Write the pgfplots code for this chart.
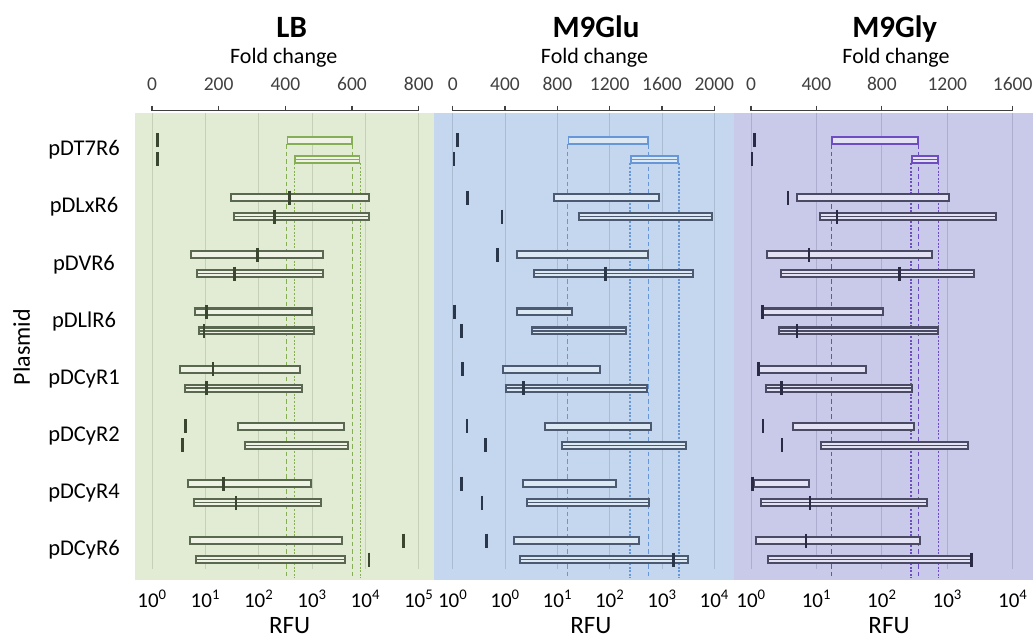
\documentclass[border=0pt]{standalone}
\usepackage{fontspec}
\setmainfont{Carlito}
\usepackage{pgfplots}
\pgfplotsset{compat=1.18}

\definecolor{lbbg}{HTML}{E2EBD3}
\definecolor{lbgrid}{HTML}{C6D0B8}
\definecolor{lbbar}{HTML}{5A6850}
\definecolor{lbfill}{HTML}{EEF3E6}
\definecolor{lbmark}{HTML}{3A4630}
\definecolor{lbt7}{HTML}{86AE55}

\definecolor{glubg}{HTML}{C5D7EE}
\definecolor{glugrid}{HTML}{AABCD2}
\definecolor{glubar}{HTML}{4B5A70}
\definecolor{glufill}{HTML}{DDE8F5}
\definecolor{glumark}{HTML}{2A364A}
\definecolor{glut7}{HTML}{6797D6}

\definecolor{glybg}{HTML}{C9C9EA}
\definecolor{glygrid}{HTML}{ADADCF}
\definecolor{glybar}{HTML}{4A4A64}
\definecolor{glyfill}{HTML}{E2E2F4}
\definecolor{glymark}{HTML}{2A2A44}
\definecolor{glyt7}{HTML}{6E4CC2}

\definecolor{axc}{HTML}{404040}

% upper bar: lo, hi, y   (outline drawn as a thick line with a light core)
\newcommand{\UB}[3]{%
  \addplot[draw=barc, line width=9pt] coordinates {(#1,#3) (#2,#3)};
  \addplot[draw=fillc, line width=4.8pt, shorten <=2.1pt, shorten >=2.1pt] coordinates {(#1,#3) (#2,#3)};}
% lower (double) bar
\newcommand{\LBr}[3]{\UB{#1}{#2}{#3}%
  \addplot[draw=barc, line width=1.3pt, shorten <=2.1pt, shorten >=2.1pt] coordinates {(#1,#3) (#2,#3)};}
% T7 bars: thinner outline, coloured
\newcommand{\UT}[3]{%
  \addplot[draw=t7c, line width=8.6pt] coordinates {(#1,#3) (#2,#3)};
  \addplot[draw=fillc, line width=5.2pt, shorten <=1.7pt, shorten >=1.7pt] coordinates {(#1,#3) (#2,#3)};}
\newcommand{\LT}[3]{\UT{#1}{#2}{#3}%
  \addplot[draw=t7c, line width=1.2pt, shorten <=1.7pt, shorten >=1.7pt] coordinates {(#1,#3) (#2,#3)};}

\pgfplotsset{
  panel/.style={scale only axis, height=467.3pt, ymin=-8.521, ymax=-0.35,
    axis line style={draw=none}, major tick length=0pt, tick style={draw=none},
    ytick=\empty,
    xticklabel style={font=\fontsize{21}{21}\selectfont, anchor=base, yshift=-27.3pt}},
  fold/.style={scale only axis, height=10pt, ymin=0, ymax=1,
    axis x line=top, axis y line=none,
    axis line style={-, draw=axc, line width=1.2pt},
    tick align=outside, major tick length=5pt,
    tick style={draw=axc, line width=1.2pt},
    xticklabel style={font=\fontsize{19.5}{19.5}\selectfont, text=axc, yshift=12pt}},
  dashU/.style={draw=t7c, line width=1.3pt, dash pattern=on 4.5pt off 3pt},
  dashL/.style={draw=t7c, line width=1.2pt, dash pattern=on 2pt off 1.6pt},
  mk/.style={only marks, mark=|, mark size=7pt, mark options={line width=2.6pt, draw=markc}},
}

\begin{document}
\begin{tikzpicture}
\useasboundingbox (0pt,0pt) rectangle (1036pt,-639pt);

% ================= LB =================
\colorlet{barc}{lbbar}\colorlet{fillc}{lbfill}\colorlet{markc}{lbmark}\colorlet{t7c}{lbt7}\colorlet{gridc}{lbgrid}
\begin{axis}[panel, at={(135pt,-580pt)}, anchor=south west, width=299pt,
  xmin=-0.319, xmax=5.287, axis background/.style={fill=lbbg},
  xtick={0,...,5},
  xticklabels={10\textsuperscript{0},10\textsuperscript{1},10\textsuperscript{2},10\textsuperscript{3},10\textsuperscript{4},10\textsuperscript{5}},
  ytick={-1,-2,-3,-4,-5,-6,-7,-8},
  yticklabels={pDT7R6,pDLxR6,pDVR6,pDLlR6,pDCyR1,pDCyR2,pDCyR4,pDCyR6},
  yticklabel style={anchor=center, xshift=-51pt, font=\fontsize{22.5}{22.5}\selectfont}]
\pgfplotsinvokeforeach{0,...,5}{\addplot[draw=gridc, line width=0.8pt] coordinates {(#1,-0.35) (#1,-8.329)};}
\addplot[dashU] coordinates {(2.526,-0.904) (2.526,-8.486)};
\addplot[dashU] coordinates {(3.763,-0.904) (3.763,-8.486)};
\addplot[dashL] coordinates {(2.668,-1.236) (2.668,-8.486)};
\addplot[dashL] coordinates {(3.906,-1.236) (3.906,-8.486)};
\UT{2.526}{3.763}{-0.834}
\LT{2.668}{3.906}{-1.166}
\UB{1.463}{4.088}{-1.834}
\LBr{1.513}{4.088}{-2.166}
\UB{0.718}{3.231}{-2.834}
\LBr{0.825}{3.231}{-3.166}
\UB{0.782}{3.013}{-3.834}
\LBr{0.857}{3.062}{-4.166}
\UB{0.512}{2.794}{-4.834}
\LBr{0.606}{2.837}{-5.166}
\UB{1.588}{3.613}{-5.834}
\LBr{1.719}{3.700}{-6.166}
\UB{0.651}{2.995}{-6.834}
\LBr{0.763}{3.182}{-7.166}
\UB{0.694}{3.587}{-7.834}
\LBr{0.801}{3.638}{-8.166}
\addplot[mk] table[row sep=\\] {
x y\\
0.099 -0.834\\ 0.099 -1.166\\
2.575 -1.834\\ 2.301 -2.166\\
1.982 -2.834\\ 1.543 -3.166\\
1.026 -3.834\\ 0.975 -4.166\\
1.144 -4.834\\ 1.026 -5.166\\
0.624 -5.834\\ 0.568 -6.166\\
1.337 -6.834\\ 1.575 -7.166\\
4.712 -7.834\\ 4.069 -8.166\\
};
\end{axis}
\begin{axis}[fold, at={(152pt,-110.7pt)}, anchor=north west, width=266.7pt,
  xmin=0, xmax=800, xtick={0,200,400,600,800}, xticklabels={0,200,400,600,800}]
\end{axis}

% ================= M9Glu =================
\colorlet{barc}{glubar}\colorlet{fillc}{glufill}\colorlet{markc}{glumark}\colorlet{t7c}{glut7}\colorlet{gridc}{glugrid}
\begin{axis}[panel, at={(434pt,-580pt)}, anchor=south west, width=299.5pt,
  xmin=-1.357, xmax=4.367, axis background/.style={fill=glubg},
  xtick={-1,...,4},
  xticklabels={10\textsuperscript{0},10\textsuperscript{0},10\textsuperscript{1},10\textsuperscript{2},10\textsuperscript{3},10\textsuperscript{4}}]
\pgfplotsinvokeforeach{-1,...,4}{\addplot[draw=gridc, line width=0.8pt] coordinates {(#1,-0.35) (#1,-8.329)};}
\addplot[dashU] coordinates {(1.198,-0.904) (1.198,-8.486)};
\addplot[dashU] coordinates {(2.746,-0.904) (2.746,-8.486)};
\addplot[dashL] coordinates {(2.389,-1.236) (2.389,-8.486)};
\addplot[dashL] coordinates {(3.325,-1.236) (3.325,-8.486)};
\UT{1.198}{2.746}{-0.834}
\LT{2.389}{3.325}{-1.166}
\UB{0.911}{2.962}{-1.834}
\LBr{1.389}{3.981}{-2.166}
\UB{0.210}{2.752}{-2.834}
\LBr{0.541}{3.618}{-3.166}
\UB{0.210}{1.305}{-3.834}
\LBr{0.502}{2.331}{-4.166}
\UB{-0.063}{1.829}{-4.834}
\LBr{-0.006}{2.739}{-5.166}
\UB{0.751}{2.804}{-5.834}
\LBr{1.064}{3.472}{-6.166}
\UB{0.319}{2.135}{-6.834}
\LBr{0.401}{2.765}{-7.166}
\UB{0.158}{2.580}{-7.834}
\LBr{0.273}{3.516}{-8.166}
\addplot[mk] table[row sep=\\] {
x y\\
-0.912 -0.834\\ -0.975 -1.166\\
-0.721 -1.834\\ -0.058 -2.166\\
-0.140 -2.834\\ 1.924 -3.166\\
-0.969 -3.834\\ -0.836 -4.166\\
-0.809 -4.834\\ 0.349 -5.166\\
-0.727 -5.834\\ -0.377 -6.166\\
-0.836 -6.834\\ -0.440 -7.166\\
-0.358 -7.834\\ 3.224 -8.166\\
};
\end{axis}
\begin{axis}[fold, at={(452.7pt,-110.7pt)}, anchor=north west, width=261.6pt,
  xmin=0, xmax=2000, xtick={0,400,800,1200,1600,2000}, xticklabels={0,400,800,1200,1600,2000}]
\end{axis}

% ================= M9Gly =================
\colorlet{barc}{glybar}\colorlet{fillc}{glyfill}\colorlet{markc}{glymark}\colorlet{t7c}{glyt7}\colorlet{gridc}{glygrid}
\begin{axis}[panel, at={(733.5pt,-580pt)}, anchor=south west, width=299.5pt,
  xmin=-0.267, xmax=4.310, axis background/.style={fill=glybg},
  xtick={0,...,4},
  xticklabels={10\textsuperscript{0},10\textsuperscript{1},10\textsuperscript{2},10\textsuperscript{3},10\textsuperscript{4}}]
\pgfplotsinvokeforeach{0,...,4}{\addplot[draw=gridc, line width=0.8pt] coordinates {(#1,-0.35) (#1,-8.329)};}
\addplot[dashU] coordinates {(1.227,-0.904) (1.227,-8.486)};
\addplot[dashU] coordinates {(2.563,-0.904) (2.563,-8.486)};
\addplot[dashL] coordinates {(2.446,-1.236) (2.446,-8.486)};
\addplot[dashL] coordinates {(2.869,-1.236) (2.869,-8.486)};
\UT{1.227}{2.563}{-0.834}
\LT{2.446}{2.869}{-1.166}
\UB{0.692}{3.046}{-1.834}
\LBr{1.039}{3.765}{-2.166}
\UB{0.229}{2.787}{-2.834}
\LBr{0.448}{3.419}{-3.166}
\UB{0.173}{2.028}{-3.834}
\LBr{0.417}{2.878}{-4.166}
\UB{0.112}{1.773}{-4.834}
\LBr{0.209}{2.476}{-5.166}
\UB{0.631}{2.511}{-5.834}
\LBr{1.050}{3.332}{-6.166}
\UB{0.026}{0.906}{-6.834}
\LBr{0.142}{2.710}{-7.166}
\UB{0.057}{2.594}{-7.834}
\LBr{0.249}{3.378}{-8.166}
\addplot[mk] table[row sep=\\] {
x y\\
0.050 -0.834\\ 0.015 -1.166\\
0.566 -1.834\\ 1.315 -2.166\\
0.887 -2.834\\ 2.273 -3.166\\
0.173 -3.834\\ 0.703 -4.166\\
0.112 -4.834\\ 0.463 -5.166\\
0.183 -5.834\\ 0.474 -6.166\\
0.020 -6.834\\ 0.902 -7.166\\
0.841 -7.834\\ 3.368 -8.166\\
};
\end{axis}
\begin{axis}[fold, at={(751pt,-110.7pt)}, anchor=north west, width=261.7pt,
  xmin=0, xmax=1600, xtick={0,400,800,1200,1600}, xticklabels={0,400,800,1200,1600}]
\end{axis}

% ================= texts =================
\node[anchor=base, inner sep=0pt, font=\fontsize{31}{31}\selectfont\bfseries] at (291.7pt,-37.3pt) {LB};
\node[anchor=base, inner sep=0pt, font=\fontsize{31}{31}\selectfont\bfseries] at (596pt,-37.3pt) {M9Glu};
\node[anchor=base, inner sep=0pt, font=\fontsize{31}{31}\selectfont\bfseries] at (894.7pt,-37.3pt) {M9Gly};
\node[anchor=base, inner sep=0pt, font=\fontsize{22}{22}\selectfont] at (283.7pt,-64pt) {Fold change};
\node[anchor=base, inner sep=0pt, font=\fontsize{22}{22}\selectfont] at (594.5pt,-64pt) {Fold change};
\node[anchor=base, inner sep=0pt, font=\fontsize{22}{22}\selectfont] at (896pt,-64pt) {Fold change};
\node[anchor=base, inner sep=0pt, font=\fontsize{25}{25}\selectfont] at (289.7pt,-633.5pt) {RFU};
\node[anchor=base, inner sep=0pt, font=\fontsize{25}{25}\selectfont] at (590.8pt,-633.5pt) {RFU};
\node[anchor=base, inner sep=0pt, font=\fontsize{25}{25}\selectfont] at (889pt,-633.5pt) {RFU};
\node[rotate=90, inner sep=0pt, font=\fontsize{24}{24}\selectfont] at (21.7pt,-347pt) {Plasmid};
\end{tikzpicture}
\end{document}
